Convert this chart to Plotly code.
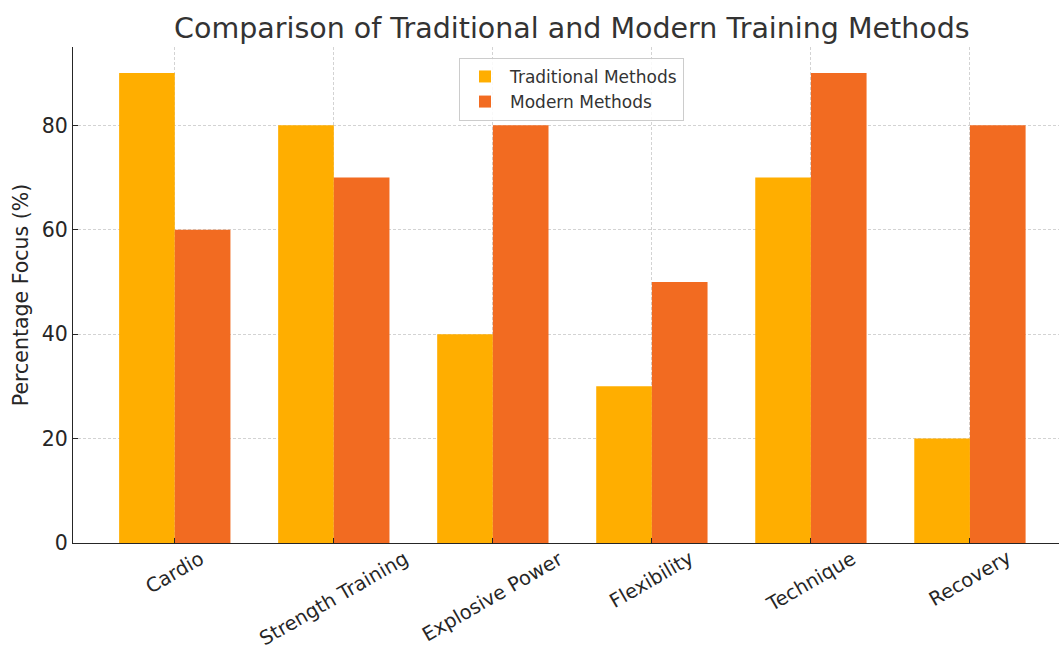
import plotly.graph_objects as go

categories = ["Cardio", "Strength Training", "Explosive Power", "Flexibility", "Technique", "Recovery"]
traditional = [90, 80, 40, 30, 70, 20]
modern = [60, 70, 80, 50, 90, 80]
series_names = ["Traditional Methods", "Modern Methods"]
y_ticks = [0, 20, 40, 60, 80]

FONT = "DejaVu Sans"
x_idx = list(range(len(categories)))

fig = go.Figure()
fig.add_trace(go.Bar(x=x_idx, y=traditional, name=series_names[0],
                     marker=dict(color="#FFAE00", line=dict(width=0))))
fig.add_trace(go.Bar(x=x_idx, y=modern, name=series_names[1],
                     marker=dict(color="#F26B21", line=dict(width=0))))

annotations = []
for i, c in enumerate(categories):
    annotations.append(dict(x=i, y=0, xref="x", yref="paper", text=c, showarrow=False,
                            textangle=-30, xanchor="center", yanchor="top", yshift=-2,
                            borderpad=0,
                            font=dict(family=FONT, size=19.5, color="#262626")))

fig.update_layout(
    width=1059, height=653,
    margin=dict(l=73, r=0, t=47, b=110, autoexpand=False),
    paper_bgcolor="white", plot_bgcolor="white",
    barmode="group", bargap=0.3, bargroupgap=0,
    font=dict(family=FONT, color="#262626"),
    title=dict(text="Comparison of Traditional and Modern Training Methods",
               x=0.506, xref="paper", xanchor="center", y=0.957, yanchor="middle",
               font=dict(family=FONT, size=28.5, color="#333333")),
    legend=dict(x=0.5056, xanchor="center", y=0.978, yanchor="top",
                bgcolor="rgba(255,255,255,0.85)", bordercolor="#cccccc", borderwidth=1,
                font=dict(family=FONT, size=17, color="#333333"),
                traceorder="normal", itemwidth=40),
    annotations=annotations,
    showlegend=True,
)
fig.update_xaxes(range=[-0.64, 5.56], tickvals=x_idx, showticklabels=False,
                 showgrid=True, gridcolor="#d3d3d3", griddash="3px,2px", gridwidth=1,
                 showline=True, linecolor="#262626", linewidth=1.3,
                 ticks="inside", ticklen=5, tickcolor="#262626", zeroline=False)
fig.update_yaxes(range=[0, 95], tickvals=y_ticks,
                 showgrid=True, gridcolor="#d3d3d3", griddash="3px,2px", gridwidth=1,
                 showline=True, linecolor="#262626", linewidth=1.3,
                 ticks="inside", ticklen=5, tickcolor="#262626", zeroline=False,
                 tickfont=dict(family=FONT, size=20.5, color="#262626"),
                 title=dict(text="Percentage Focus (%)", standoff=7,
                            font=dict(family=FONT, size=20.5, color="#262626")))

fig.write_html("out.html", config={"displayModeBar": False},
               post_script="document.body.style.margin='0px';")
